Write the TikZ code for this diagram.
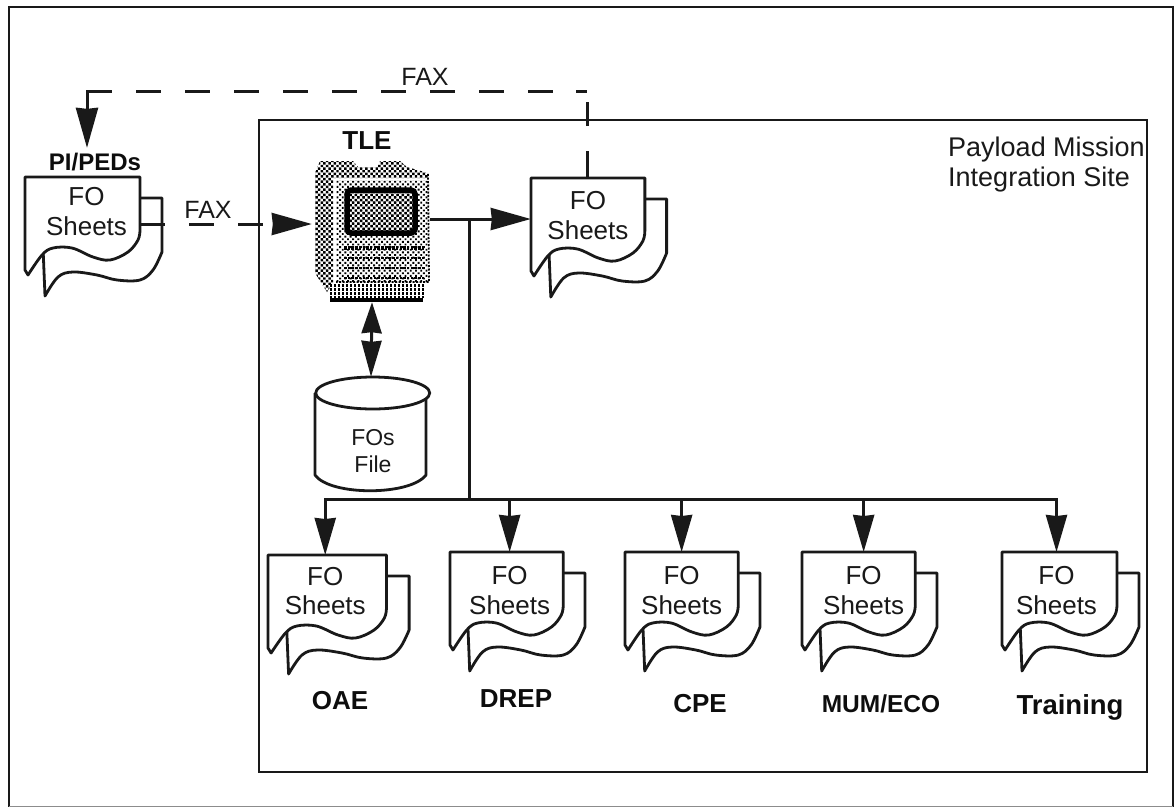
\documentclass[tikz,border=0pt]{standalone}
\usepackage{fontspec}
\setmainfont{Liberation Sans}
\usetikzlibrary{patterns.meta}
\usetikzlibrary{arrows.meta}
\usetikzlibrary{calc}
\tikzset{
    frame line/.style={line width=2.7pt, color=black!90},
    sheet line/.style={line width=2.8pt, color=black!90, fill=white, line join=round},
    big arrow/.style={line width=3pt, color=black!90, -{Stealth[length=40pt,width=22pt,inset=1pt]}},
    small arrow/.style={line width=3pt, color=black!90, -{Stealth[length=37pt,width=21pt,inset=1pt]}},
    plain wire/.style={line width=3pt, color=black!90},
    fax dash/.style={dash pattern=on 25pt off 24pt},
    fax top dash/.style={dash pattern=on 27pt off 25pt on 24pt off 12pt on 11pt off 23pt
        on 25pt off 24pt on 25pt off 24pt on 25pt off 24pt on 25pt off 24pt on 25pt off 24pt
        on 25pt off 24pt on 25pt off 24pt on 25pt off 24pt on 25pt off 24pt on 80pt off 1pt},
    sheet text/.style={align=center, inner xsep=0pt, inner ysep=10.5pt, anchor=north, color=black!90,
        font=\fontsize{26}{29.5}\selectfont},
    file text/.style={align=center, inner sep=0pt, color=black!90, font=\fontsize{23}{27}\selectfont},
    fax text/.style={inner sep=0pt, color=black!90, font=\fontsize{25}{27}\selectfont},
    site text/.style={inner sep=0pt, align=left, anchor=west, color=black!90, font=\fontsize{27}{30}\selectfont},
    bold text/.style={inner sep=0pt, color=black!95, font=\fontsize{#1}{#1}\selectfont\bfseries},
    mac dark/.style={pattern={Dots[radius=1.75pt,distance=3.7pt,angle=45]}, pattern color=black},
    mac light/.style={pattern={Dots[radius=1.35pt,distance=3.7pt,angle=45]}, pattern color=black},
}
% one pair of sheets: name, left, top, x scale
\newcommand{\fosheet}[5][]{
    \begin{scope}[shift={(#3,#4)}, xscale=#5]
        \draw[sheet line] (115,21) -- (137,21) -- (137,75) -- plot[smooth,tension=.6] coordinates {(137,75) (128,93) (115,103) (92,103) (72,98) (48,95) (33,100) (20,119)} -- (18,70) -- cycle;
        \draw[sheet line] (0,93) -- (0,0) -- (115,0) -- (115,53) -- plot[smooth,tension=.6] coordinates {(115,53) (113,63) (103,75) (85,83) (68,80) (47,71) (28,71) (17,78) (3,98)} -- cycle;
        \node[sheet text, minimum width=#5*115pt, #1] (#2) at (57.5,0) {FO\\Sheets};
    \end{scope}
}
\begin{document}
\begin{tikzpicture}[x=1pt, y=-1pt]
    \useasboundingbox (0,0) rectangle (1175,807);
    \draw[frame line] (9,806.5) -- (9,7) -- (1173,7) -- (1173,806.5);
    \draw[line width=1.5pt, color=black!45] (9,806.5) -- (1173,806.5);
    \draw[frame line] (259,120) rectangle (1147,772);

    \node[site text] (site) at (948,164.5) {Payload Mission\\Integration Site};
    \node[bold text=26] (tlelabel) at (367,141) {TLE};
    \node[bold text=24, inner ysep=5pt] (pilabel) at (95,162) {PI/PEDs};

    % the computer
    \node[minimum width=114pt, minimum height=142pt, inner sep=0pt] (tle) at (372,231) {};
    \path[mac dark] (315,173) -- (320,161) -- (353,161) -- (358,167) -- (377,167) -- (380,161) -- (400,161) -- (407,167) -- (428,173) -- (428,178) -- (333,178) -- (333,283) -- (327,292) -- (315,273) -- cycle;
    \path[mac light] (336,180) rectangle (428,282);
    \draw[line width=1.8pt, dash pattern=on 2pt off 1.5pt] (428,174) -- (429,282) -- (336,282);
    \draw[line width=5.5pt, rounded corners=4pt, mac dark] (347,190) rectangle (415,233);
    \foreach \macy/\macw in {248/3.2, 258/2, 268/2, 278/2}
        \draw[line width=\macw pt, dash pattern=on 2.5pt off 1.2pt] (344,\macy) -- (424,\macy);
    \foreach \macx in {331,335,...,423}
        \draw[line width=2.2pt, dash pattern=on 3pt off 1pt] (\macx,284) -- (\macx,298);
    \draw[line width=3.6pt] (330,300) -- (423,300);

    % the file
    \node[minimum width=112pt, minimum height=114pt, inner sep=0pt] (fos) at (371,434) {};
    \draw[sheet line] (315,393) -- (315,475) .. controls (330,496) and (410,496) .. (426,475) -- (426,393);
    \draw[sheet line] (372.7,393) ellipse (57pt and 16pt);
    \node[file text] (fostext) at (373,451) {FOs\\File};

    % the sheets
    \fosheet[xshift=4pt]{pisheet}{25}{177}{1}
    \fosheet[inner ysep=13.5pt]{topsheet}{531}{178}{0.99}
    \fosheet[xshift=-2pt, inner ysep=12pt]{oae}{268}{555}{1.03}
    \fosheet[xshift=3pt, inner ysep=14.5pt]{drep}{450}{552}{0.985}
    \fosheet[inner ysep=14.5pt]{cpe}{625}{552}{0.985}
    \fosheet[xshift=5pt, inner ysep=14.5pt]{mum}{802}{552}{0.985}
    \fosheet[xshift=-3pt, inner ysep=14.5pt]{training}{1002}{552}{1}

    \node[bold text=26] (oaelabel) at (340,701) {OAE};
    \node[bold text=26] (dreplabel) at (516,699) {DREP};
    \node[bold text=26] (cpelabel) at (700,704) {CPE};
    \node[bold text=24.5] (mumlabel) at (881,704) {MUM/ECO};
    \node[bold text=27.5] (traininglabel) at (1070,707) {Training};

    \node[fax text] (faxtop) at (425,77) {FAX};
    \node[fax text] (faxleft) at (208,210) {FAX};

    \coordinate (piout) at (140,224);
    \coordinate (tleout) at (430,219);
    \coordinate (fork) at (469,499);
    \coordinate (faxturn) at (87,91);

    % fax lines
    \draw[big arrow, fax top dash] (topsheet.north) |- (faxturn) -- (faxturn |- pilabel.north);
    \draw[big arrow, fax dash, shorten >=3pt] (piout) -- (tle.west |- piout);

    % from the computer
    \draw[big arrow] (tleout) -- (topsheet.west |- tleout);
    \draw[plain wire] (469,219) -- (fork);
    \draw[line width=3pt, color=black!90, {Stealth[length=31pt,width=20pt,inset=1pt]}-{Stealth[length=36pt,width=20pt,inset=1pt]}] (tle.south) -- (fos.north);
    \foreach \target in {oae,drep,cpe,mum,training}
        \draw[small arrow] (fork) -| (\target.north);
\end{tikzpicture}
\end{document}
